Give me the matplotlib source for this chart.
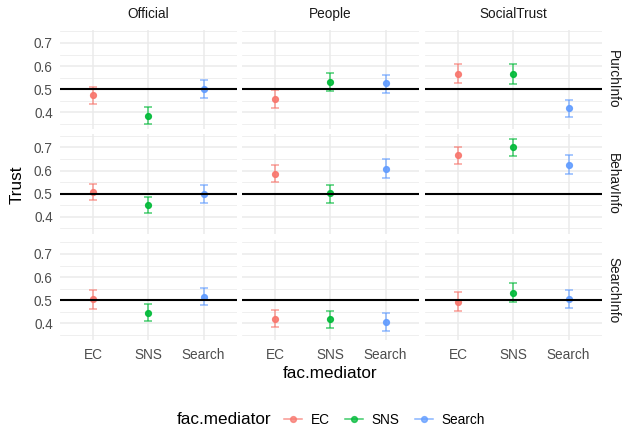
import numpy as np
import pandas as pd
import matplotlib
matplotlib.use("Agg")
import matplotlib.pyplot as plt
from matplotlib.lines import Line2D
from matplotlib.ticker import MultipleLocator

plt.rcParams["font.family"] = ["Liberation Sans", "DejaVu Sans"]

sources = ["Official", "People", "SocialTrust"]
infos = ["PurchInfo", "BehavInfo", "SearchInfo"]
mediators = ["EC", "SNS", "Search"]
colors = {"EC": "#F8766D", "SNS": "#00BA38", "Search": "#619CFF"}

# each row: Official (EC, SNS, Search), People (...), SocialTrust (...)
trust_purch = [0.475, 0.385, 0.499, 0.457, 0.530, 0.525, 0.567, 0.567, 0.417]
lower_purch = [0.435, 0.346, 0.461, 0.416, 0.493, 0.484, 0.528, 0.523, 0.380]
upper_purch = [0.510, 0.422, 0.538, 0.496, 0.571, 0.561, 0.609, 0.607, 0.454]

trust_behav = [0.507, 0.452, 0.499, 0.587, 0.501, 0.607, 0.667, 0.700, 0.626]
lower_behav = [0.470, 0.416, 0.459, 0.548, 0.459, 0.567, 0.630, 0.661, 0.583]
upper_behav = [0.542, 0.487, 0.536, 0.626, 0.536, 0.648, 0.700, 0.739, 0.667]

trust_search = [0.503, 0.444, 0.514, 0.418, 0.417, 0.406, 0.492, 0.531, 0.506]
lower_search = [0.463, 0.410, 0.477, 0.383, 0.377, 0.366, 0.451, 0.492, 0.466]
upper_search = [0.544, 0.482, 0.551, 0.456, 0.454, 0.445, 0.535, 0.573, 0.544]

rows = []
for info, t, lo, hi in [("PurchInfo", trust_purch, lower_purch, upper_purch),
                        ("BehavInfo", trust_behav, lower_behav, upper_behav),
                        ("SearchInfo", trust_search, lower_search, upper_search)]:
    k = 0
    for src in sources:
        for med in mediators:
            rows.append(dict(info=info, source=src, mediator=med,
                             trust=t[k], lower=lo[k], upper=hi[k]))
            k += 1
df = pd.DataFrame(rows)

W, H = 629, 430
fig = plt.figure(figsize=(W / 100, H / 100), dpi=100)
fig.patch.set_facecolor("white")

col_left = [59.7, 241.7, 424.7]
panel_w = 177.0
row_top = [29.5, 134.0, 240.5]
panel_h = 99.5

lo_all, hi_all = df["lower"].min(), df["upper"].max()
pad = (hi_all - lo_all) * 0.05
ylim = (lo_all - pad, hi_all + pad)

tick_col = "#4D4D4D"
grid_col = "#EBEBEB"

for i, info in enumerate(infos):
    for j, src in enumerate(sources):
        ax = fig.add_axes([col_left[j] / W, 1 - (row_top[i] + panel_h) / H,
                           panel_w / W, panel_h / H])
        ax.set_facecolor("white")
        for s in ax.spines.values():
            s.set_visible(False)
        sub = df[(df["info"] == info) & (df["source"] == src)]
        for _, r in sub.iterrows():
            x = mediators.index(r["mediator"]) + 1
            c = colors[r["mediator"]]
            ax.errorbar(x, r["trust"],
                        yerr=[[r["trust"] - r["lower"]], [r["upper"] - r["trust"]]],
                        fmt="none", ecolor=c, elinewidth=1.1, capsize=2.6,
                        capthick=1.1, alpha=0.7, zorder=3)
            ax.plot(x, r["trust"], "o", color=c, ms=4.2, alpha=0.9, zorder=3.5)
        ax.axhline(0.5, color="black", lw=1.5, zorder=4)
        ax.set_xlim(0.4, 3.6)
        ax.set_ylim(*ylim)
        ax.set_xticks([1, 2, 3])
        ax.yaxis.set_major_locator(MultipleLocator(0.1))
        ax.yaxis.set_minor_locator(MultipleLocator(0.05))
        ax.set_yticks([0.4, 0.5, 0.6, 0.7])
        ax.grid(True, which="major", color=grid_col, lw=1.1, zorder=0)
        ax.grid(True, which="minor", axis="y", color=grid_col, lw=0.55, zorder=0)
        ax.set_axisbelow(True)
        ax.tick_params(which="both", length=0, labelsize=9.8, labelcolor=tick_col)
        ax.tick_params(axis="y", pad=5)
        ax.tick_params(axis="x", pad=6)
        if j == 0:
            ax.set_yticklabels(["0.4", "0.5", "0.6", "0.7"])
        else:
            ax.set_yticklabels([])
        if i == 2:
            ax.set_xticklabels(mediators)
        else:
            ax.set_xticklabels([])
        if i == 0:
            ax.set_title(src, fontsize=9.8, color="#1A1A1A", pad=8)
        if j == 2:
            ax.text(1.0 + 11.5 / panel_w, 0.5, info, transform=ax.transAxes,
                    rotation=-90, ha="center", va="center", fontsize=9.8,
                    color="#1A1A1A")

fig.text(17 / W, 1 - 185 / H, "Trust", rotation=90, ha="center", va="center",
         fontsize=12.3)
fig.text(330.5 / W, 1 - 373 / H, "fac.mediator", ha="center", va="center",
         fontsize=12.3)

# legend
fig.text(177 / W, 1 - 420 / H, "fac.mediator", ha="left", va="center",
         fontsize=12.3)
handles = [Line2D([], [], color=colors[m], marker="o", ms=4.2, lw=1.1, alpha=0.75)
           for m in mediators]
fig.legend(handles, mediators, loc="center left",
           bbox_to_anchor=(284 / W, 1 - 420 / H), ncol=3, frameon=False,
           fontsize=9.8, handlelength=1.3, handletextpad=0.65,
           columnspacing=1.15, borderpad=0, borderaxespad=0)

fig.savefig("out.png", dpi=100, facecolor="white")
